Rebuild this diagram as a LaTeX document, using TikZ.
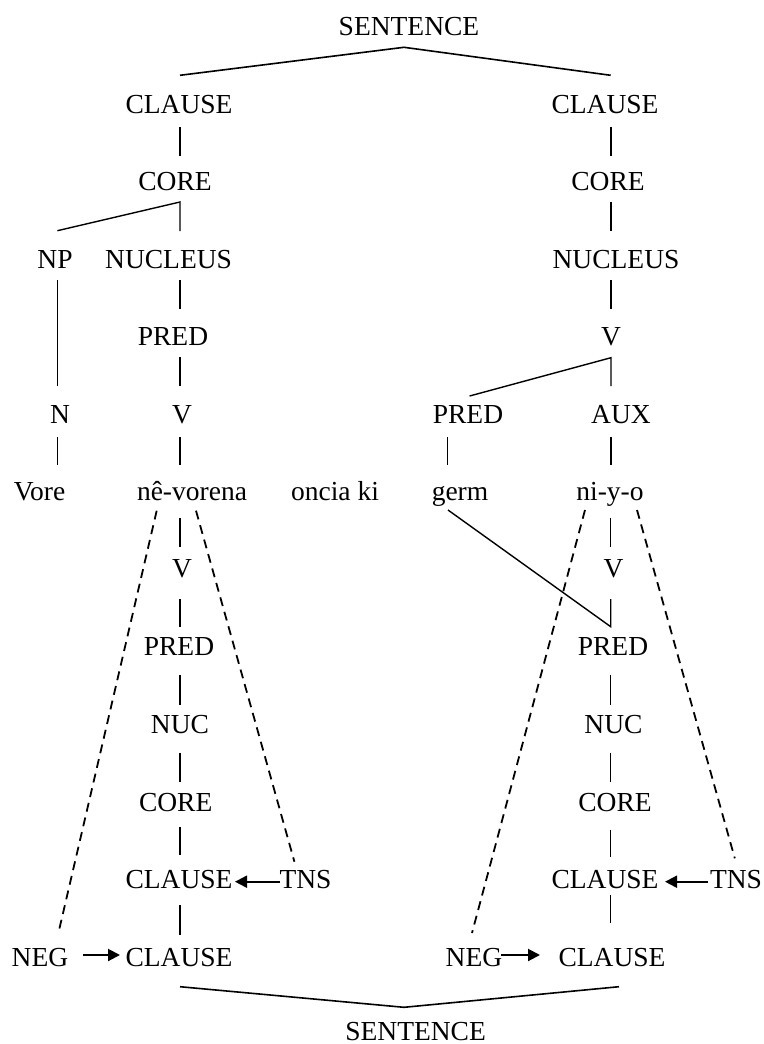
\documentclass[tikz,border=0pt]{standalone}
\usepackage{fontspec}
\setmainfont{Liberation Serif}
\usetikzlibrary{arrows.meta}
\begin{document}
\begin{tikzpicture}[x=1pt,y=-1pt,
  lbl/.style={anchor=base,inner sep=0pt,font=\fontsize{27.5}{30}\selectfont},
  edge/.style={line width=1.4pt},
  thick edge/.style={line width=1.6pt},
  dash edge/.style={line width=1.8pt,dash pattern=on 9pt off 6pt},
  arr/.style={line width=2pt,-{Triangle[length=12pt,width=12pt]}}]
\useasboundingbox (0,0) rectangle (763,1044);
% labels
\node[lbl] (sTop) at (409,35) {SENTENCE};
\node[lbl] (clL) at (179,113) {CLAUSE};
\node[lbl] (clR) at (605,113) {CLAUSE};
\node[lbl] (coL) at (175,190) {CORE};
\node[lbl] (coR) at (608,190) {CORE};
\node[lbl] (np) at (55,268) {NP};
\node[lbl] (nucL) at (168.6,268) {NUCLEUS};
\node[lbl] (nucR) at (616,268) {NUCLEUS};
\node[lbl] (predL) at (173,345) {PRED};
\node[lbl] (vR) at (611,345) {V};
\node[lbl] (n) at (60,423) {N};
\node[lbl] (vL) at (182,423) {V};
\node[lbl] (predR) at (468,423) {PRED};
\node[lbl] (aux) at (621,423) {AUX};
\node[lbl] (vore) at (39.5,500) {Vore};
\node[lbl] (nev) at (192,500) {nê-vorena};
\node[lbl] (oncia) at (335,500) {oncia ki};
\node[lbl] (germ) at (460,500) {germ};
\node[lbl] (niyo) at (610,500) {ni-y-o};
\node[lbl] (vL2) at (182,577) {V};
\node[lbl] (vR2) at (613.5,577) {V};
\node[lbl] (predL2) at (179,655) {PRED};
\node[lbl] (predR2) at (613,655) {PRED};
\node[lbl] (nucL2) at (180,733) {NUC};
\node[lbl] (nucR2) at (613.5,733) {NUC};
\node[lbl] (coL2) at (175.7,811) {CORE};
\node[lbl] (coR2) at (615,811) {CORE};
\node[lbl] (clL2) at (179,888) {CLAUSE};
\node[lbl] (tnsL) at (305.5,888) {TNS};
\node[lbl] (clR2) at (605,888) {CLAUSE};
\node[lbl] (tnsR) at (736,888) {TNS};
\node[lbl] (negL) at (40,966) {NEG};
\node[lbl] (clL3) at (179,966) {CLAUSE};
\node[lbl] (negR) at (474,966) {NEG};
\node[lbl] (clR3) at (612,966) {CLAUSE};
\node[lbl] (sBot) at (415.6,1040) {SENTENCE};
% connector end points
\coordinate (sTopA) at (404,47.3);
\coordinate (clLt) at (180,75.3);
\coordinate (clRt) at (610.7,75.3);
\coordinate (clLb) at (180,127);   \coordinate (coLt) at (180,156);
\coordinate (clRb) at (611,127);   \coordinate (coRt) at (611,156);
\coordinate (coLb) at (180,202);   \coordinate (npt) at (57.4,230.7); \coordinate (nucLt) at (180,231);
\coordinate (coRb) at (611,202);   \coordinate (nucRt) at (611,231);
\coordinate (npb) at (57.4,280);   \coordinate (nt) at (57.4,386);
\coordinate (nucLb) at (180,280);  \coordinate (predLt) at (180,309);
\coordinate (nucRb) at (611,280);  \coordinate (vRt) at (611,309);
\coordinate (predLb) at (180,357); \coordinate (vLt) at (180,386);
\coordinate (vRb) at (611,357.7);  \coordinate (predRt) at (469.6,396); \coordinate (auxt) at (611,386);
\coordinate (nb) at (57.4,437);    \coordinate (voret) at (57.4,465);
\coordinate (vLb) at (180,437);    \coordinate (nevt) at (180,465);
\coordinate (predRb) at (447.7,437); \coordinate (germt) at (447.7,465);
\coordinate (auxb) at (611,437);   \coordinate (niyot) at (611,465);
\coordinate (nevb) at (180,518);   \coordinate (vL2t) at (180,547);
\coordinate (niyob) at (610.7,518); \coordinate (vR2t) at (610.7,547);
\coordinate (germb) at (448,510);  \coordinate (predR2t) at (610.7,626.7); \coordinate (vR2b) at (610.7,599);
\coordinate (vL2b) at (180,599);   \coordinate (predL2t) at (180,627);
\coordinate (predL2b) at (180,675); \coordinate (nucL2t) at (180,705);
\coordinate (predR2b) at (610.7,675); \coordinate (nucR2t) at (610.7,705);
\coordinate (nucL2b) at (180,752.7); \coordinate (coL2t) at (180,781.7);
\coordinate (nucR2b) at (610.7,752.7); \coordinate (coR2t) at (610.7,781.7);
\coordinate (coL2b) at (180,826.7); \coordinate (clL2t) at (180,855);
\coordinate (coR2b) at (610.7,830); \coordinate (clR2t) at (610.7,856.7);
\coordinate (clL2b) at (180,905);  \coordinate (clL3t) at (180,935);
\coordinate (clR2b) at (610.7,895); \coordinate (clR3t) at (610.7,923);
\coordinate (nevdl) at (156.7,510.7); \coordinate (negLt) at (58.4,933);
\coordinate (nevdr) at (196,510.7);   \coordinate (tnsLt) at (294.4,861.7);
\coordinate (niyodl) at (585,510);    \coordinate (negRt) at (472,933);
\coordinate (niyodr) at (637,510);    \coordinate (tnsRt) at (734.8,858.3);
\coordinate (tnsLw) at (280,881.7);   \coordinate (clL2e) at (235,881.7);
\coordinate (tnsRw) at (708,881.7);   \coordinate (clR2e) at (665,881.7);
\coordinate (negLe) at (82.7,955);    \coordinate (clL3w) at (120,955);
\coordinate (negRe) at (501,955);     \coordinate (clR3w) at (540,955);
\coordinate (clL3b) at (180,986.7);   \coordinate (sBotA) at (404,1007.3); \coordinate (clR3b) at (619,986.7);
% solid connectors
\draw[thick edge] (clLt) -- (sTopA) -- (clRt);
\draw[edge] (clLb) -- (coLt);
\draw[edge] (clRb) -- (coRt);
\draw[edge] (npt) -- (coLb) -- (nucLt);
\draw[edge] (coRb) -- (nucRt);
\draw[edge] (npb) -- (nt);
\draw[edge] (nucLb) -- (predLt);
\draw[edge] (nucRb) -- (vRt);
\draw[edge] (predLb) -- (vLt);
\draw[edge] (predRt) -- (vRb) -- (auxt);
\draw[edge] (nb) -- (voret);
\draw[edge] (vLb) -- (nevt);
\draw[edge] (predRb) -- (germt);
\draw[edge] (auxb) -- (niyot);
\draw[edge] (nevb) -- (vL2t);
\draw[edge] (niyob) -- (vR2t);
\draw[edge] (germb) -- (predR2t) -- (vR2b);
\draw[edge] (vL2b) -- (predL2t);
\draw[edge] (predL2b) -- (nucL2t);
\draw[edge] (predR2b) -- (nucR2t);
\draw[edge] (nucL2b) -- (coL2t);
\draw[edge] (nucR2b) -- (coR2t);
\draw[edge] (coL2b) -- (clL2t);
\draw[edge] (coR2b) -- (clR2t);
\draw[edge] (clL2b) -- (clL3t);
\draw[edge] (clR2b) -- (clR3t);
\draw[thick edge] (clL3b) -- (sBotA) -- (clR3b);
% dashed connectors
\draw[dash edge] (nevdl) -- (negLt);
\draw[dash edge] (nevdr) -- (tnsLt);
\draw[dash edge] (niyodl) -- (negRt);
\draw[dash edge] (niyodr) -- (tnsRt);
% arrows
\draw[arr] (tnsLw) -- (clL2e);
\draw[arr] (tnsRw) -- (clR2e);
\draw[arr] (negLe) -- (clL3w);
\draw[arr] (negRe) -- (clR3w);
\end{tikzpicture}
\end{document}
